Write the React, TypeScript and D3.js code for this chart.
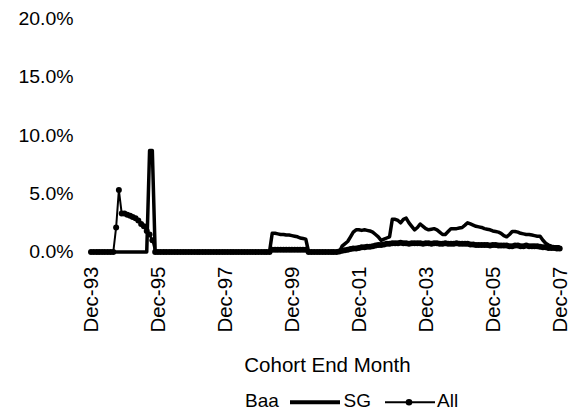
import React from "react";
import * as d3 from "d3";

// ---- Data (monthly, Dec-93 .. Dec-07), values in percent ----
const startMonth = new Date(1993, 11, 1);
const endMonth = new Date(2007, 11, 1);

const sgValues: number[] = [
  0, 0, 0, 0, 0, 0, 0, 0, 0, 0, 0, 0, 0, 0, 0, 0, 0, 0, 0, 0, 0,
  8.7, 8.7,
  0, 0, 0, 0, 0, 0, 0, 0, 0, 0, 0, 0, 0, 0, 0, 0, 0, 0, 0, 0, 0,
  0, 0, 0, 0, 0, 0, 0, 0, 0, 0, 0, 0, 0, 0, 0, 0, 0, 0, 0, 0, 0,
  1.6, 1.6, 1.55, 1.5, 1.5, 1.45, 1.45, 1.4, 1.35, 1.3, 1.2, 1.15, 1.1,
  0, 0, 0, 0, 0, 0, 0, 0, 0, 0, 0, 0,
  0.5, 0.7, 0.9, 1.3, 1.7, 1.9, 1.9, 1.85, 1.9, 1.85, 1.8, 1.7, 1.5, 1.3, 1.0, 1.1, 1.2, 1.3,
  2.8, 2.8, 2.7, 2.5, 2.8, 2.9, 2.5, 2.2, 1.9, 2.1, 2.4, 2.2, 2.0, 1.9, 1.95, 2.0, 1.9, 1.7, 1.5, 1.5,
  1.75, 2.0, 2.0, 2.0, 2.05, 2.1, 2.3, 2.5, 2.4, 2.3, 2.2, 2.15, 2.1, 2.0, 1.95, 1.9, 1.8, 1.75, 1.7, 1.6,
  1.4, 1.3, 1.5, 1.75, 1.75, 1.7, 1.6, 1.55, 1.5, 1.5, 1.45, 1.4, 1.35, 1.35, 1.0, 0.75, 0.6, 0.5, 0.45, 0.45, 0.45,
];

const allValues: number[] = [
  0, 0, 0, 0, 0, 0, 0, 0, 0,
  2.1, 5.3, 3.3, 3.3, 3.2, 3.1, 3.0, 2.9, 2.7, 2.4, 2.2, 1.8, 1.5, 1.0,
  0, 0, 0, 0, 0, 0, 0, 0, 0, 0, 0, 0, 0, 0, 0, 0, 0, 0, 0, 0, 0,
  0, 0, 0, 0, 0, 0, 0, 0, 0, 0, 0, 0, 0, 0, 0, 0, 0, 0, 0, 0, 0,
  0.2, 0.2, 0.2, 0.2, 0.2, 0.2, 0.2, 0.2, 0.2, 0.2, 0.2, 0.2, 0.2,
  0, 0, 0, 0, 0, 0, 0, 0, 0, 0, 0,
  0.05, 0.1, 0.15, 0.2, 0.25, 0.3, 0.3, 0.35, 0.4, 0.4, 0.45, 0.45, 0.5, 0.55, 0.6, 0.6, 0.65, 0.7, 0.7, 0.75,
  0.75, 0.75, 0.8, 0.75, 0.75, 0.7, 0.75, 0.75, 0.75, 0.75, 0.7, 0.75, 0.75, 0.7, 0.75, 0.75, 0.7, 0.7, 0.75, 0.7,
  0.7, 0.7, 0.75, 0.7, 0.7, 0.7, 0.7, 0.65, 0.65, 0.6, 0.6, 0.6, 0.6, 0.6, 0.55, 0.6, 0.6, 0.55, 0.55, 0.55,
  0.55, 0.5, 0.5, 0.55, 0.55, 0.5, 0.5, 0.55, 0.5, 0.5, 0.5, 0.5, 0.45, 0.4, 0.4, 0.35, 0.35, 0.35, 0.3, 0.3,
];

const yTicks: number[] = [0, 5, 10, 15, 20];
const xTickStepMonths = 24;
const legendLabels: string[] = ["Baa", "SG", "All"];
const axisTitle = "Cohort End Month";

const months: Date[] = d3.timeMonth.range(startMonth, d3.timeMonth.offset(endMonth, 1));
const xTickDates: Date[] = months.filter((_, i) => i % xTickStepMonths === 0);

const W = 580;
const H = 412;
const FONT = "'Liberation Sans', Arial, sans-serif";

export default function App() {
  const x = d3.scaleTime().domain([startMonth, endMonth]).range([91, 559.7]);
  const y = d3.scaleLinear().domain([0, 20]).range([252, 18.5]);
  const fmt = d3.timeFormat("%b-%y");

  const line = d3
    .line<number>()
    .x((_, i) => x(months[i]))
    .y((d) => y(d));

  const sgPath = line(sgValues) || "";
  const allPath = line(allValues) || "";

  return (
    <svg
      width={W}
      height={H}
      style={{ position: "absolute", left: 0, top: 0, background: "#fff" }}
    >
      <rect x={0} y={0} width={W} height={H} fill="#fff" />
      {/* Y tick labels */}
      {yTicks.map((t) => (
        <g key={t} transform={`translate(73.5,${y(t) + 6.4}) scale(1.08,1)`}>
          <text textAnchor="end" fontFamily={FONT} fontSize={18} fill="#000">
            {d3.format(".1f")(t) + "%"}
          </text>
        </g>
      ))}
      {/* X tick labels */}
      {xTickDates.map((d, i) => (
        <g key={i} transform={`translate(${x(d)},266.5) rotate(-90)`}>
          <text
            textAnchor="end"
            dy={7.3}
            fontFamily={FONT}
            fontSize={20.5}
            fill="#000"
          >
            {fmt(d)}
          </text>
        </g>
      ))}
      {/* Series */}
      <path d={allPath} fill="none" stroke="#000" strokeWidth={2} />
      {allValues.map((v, i) => (
        <circle key={i} cx={x(months[i])} cy={y(v)} r={3} fill="#000" />
      ))}
      <path d={sgPath} fill="none" stroke="#000" strokeWidth={3.5} strokeLinejoin="round" />
      {/* Axis title */}
      <text
        x={327.5}
        y={371.5}
        textAnchor="middle"
        fontFamily={FONT}
        fontSize={20.5}
        fill="#000"
      >
        {axisTitle}
      </text>
      {/* Legend */}
      <g fontFamily={FONT} fontSize={19} fill="#000">
        <text x={245} y={406.5}>{legendLabels[0]}</text>
        <line x1={290} x2={340} y1={402.3} y2={402.3} stroke="#000" strokeWidth={4} />
        <text x={343.5} y={406.5}>{legendLabels[1]}</text>
        <line x1={385} x2={435} y1={402.3} y2={402.3} stroke="#000" strokeWidth={2} />
        <circle cx={409} cy={402.3} r={3.3} fill="#000" />
        <text x={437} y={406.5}>{legendLabels[2]}</text>
      </g>
    </svg>
  );
}
